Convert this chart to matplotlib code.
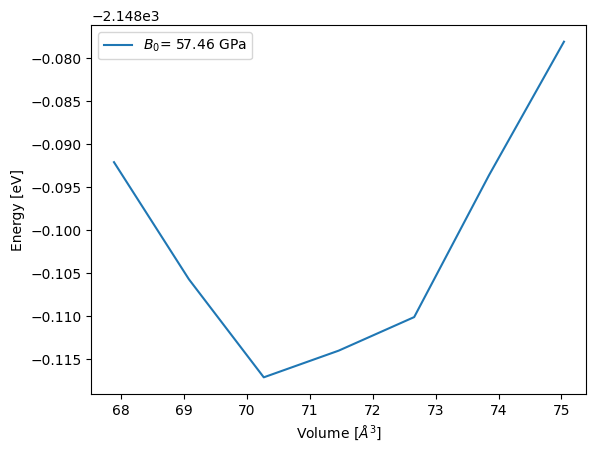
import matplotlib
matplotlib.use("Agg")
import matplotlib.pyplot as plt

# volume (A^3) and total energy (eV)
volume = [67.89, 69.08, 70.27, 71.46, 72.66, 73.85, 75.04]
energy = [-2148.0921, -2148.1057, -2148.1171, -2148.1140, -2148.1101, -2148.0936, -2148.0781]
b0 = 57.46

fig, ax = plt.subplots(figsize=(5.96, 4.53), dpi=100)
fig.subplots_adjust(left=0.1535, right=0.984, top=0.945, bottom=0.130)
ax.plot(volume, energy, label=r"$B_0$= %.2f GPa" % b0)
ax.set_xlabel(r"Volume [$\AA^3$]")
ax.set_ylabel("Energy [eV]")
ax.legend(loc="upper left")
fig.savefig("out.png")
